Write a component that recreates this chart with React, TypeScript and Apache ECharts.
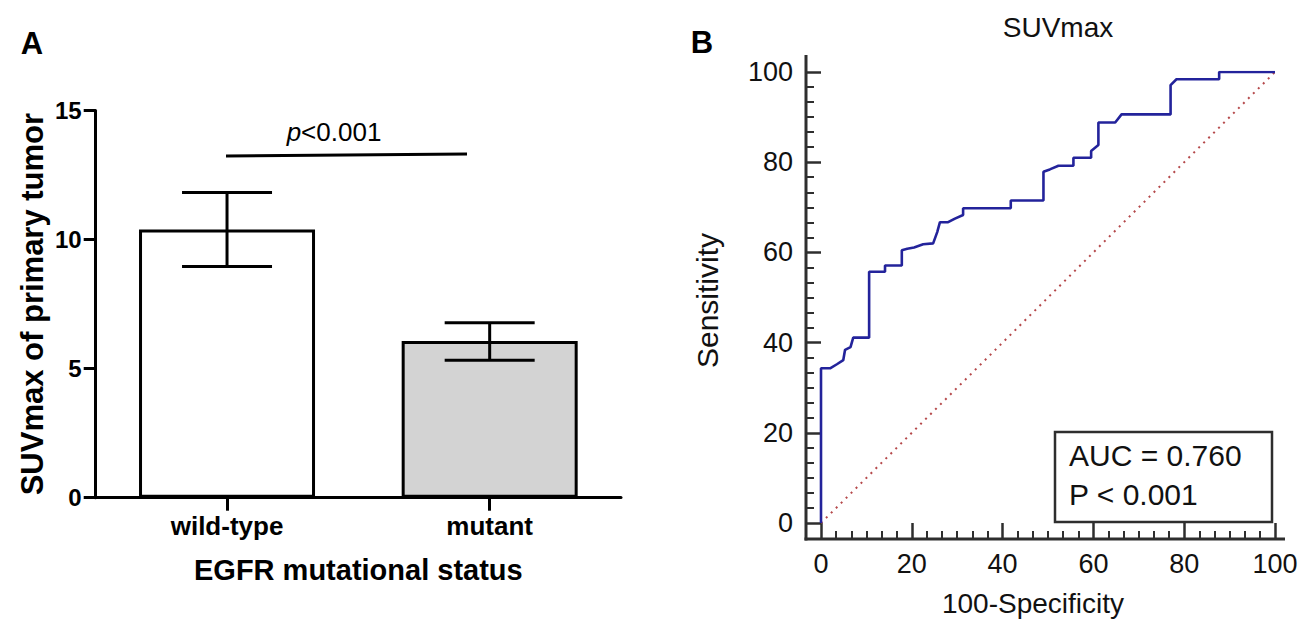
import React, { useEffect, useRef } from "react";
import * as echarts from "echarts";

// ---------- Panel A data ----------
const categories = ["wild-type", "mutant"];
const meanValues = [10.39, 6.07];
const errLow = [8.96, 5.32];
const errHigh = [11.82, 6.78];
const barFills = ["#ffffff", "#d3d3d3"];

// ---------- Panel B data (ROC curve) ----------
const rocFpr = [
  0, 0, 2.0, 3.5, 4.9, 5.3, 6.5, 7.1, 10.6, 10.6, 14.1, 14.1, 17.8, 17.8, 19.0,
  20.5, 22.5, 24.7, 25.6, 26.2, 28.0, 29.5, 31.3, 31.3, 41.8, 41.8, 49.0, 49.0,
  50.4, 52.3, 55.6, 55.6, 59.5, 59.5, 61.1, 61.1, 64.8, 66.2, 77.0, 77.0, 78.3,
  87.7, 87.7, 100,
];
const rocTpr = [
  0, 34.3, 34.3, 35.2, 36.1, 38.4, 39.0, 41.1, 41.1, 55.7, 55.7, 57.1, 57.1,
  60.5, 60.8, 61.1, 61.8, 62.0, 64.5, 66.7, 66.7, 67.5, 68.3, 69.8, 69.8, 71.5,
  71.5, 77.9, 78.4, 79.2, 79.2, 81.0, 81.0, 82.5, 83.8, 88.8, 88.8, 90.6, 90.6,
  97.1, 98.4, 98.4, 100, 100,
];
const diagX = [0, 100];
const diagY = [0, 100];
const aucText = "AUC = 0.760";
const pText = "P < 0.001";

const FONT = "'Liberation Sans', Arial, Helvetica, sans-serif";

// layout
const gA = { left: 95.7, top: 110.5, width: 525.3, height: 387.2 };
const gB = { left: 821, top: 72, width: 454, height: 451 };
const offY = 15;
const offX = 16;
const axisGray = "#2e2e2e";

export default function App() {
  const ref = useRef<HTMLDivElement>(null);

  useEffect(() => {
    if (!ref.current) return;
    const chart = echarts.init(ref.current, undefined, { renderer: "svg" });

    const yAxisLineX = gB.left - offY;
    const xAxisLineY = gB.top + gB.height + offX;

    const option: any = {
      animation: false,
      backgroundColor: "#ffffff",
      grid: [
        { left: gA.left, top: gA.top, width: gA.width, height: gA.height },
        { left: gB.left, top: gB.top, width: gB.width, height: gB.height },
      ],
      xAxis: [
        {
          gridIndex: 0,
          type: "category",
          data: categories,
          boundaryGap: true,
          axisLine: { show: true, onZero: false, lineStyle: { color: "#000", width: 3 } },
          axisTick: {
            show: true,
            alignWithLabel: true,
            length: 13,
            lineStyle: { color: "#000", width: 3 },
          },
          axisLabel: {
            color: "#000",
            fontFamily: FONT,
            fontWeight: "bold",
            fontSize: 26,
            margin: 15,
          },
          name: "EGFR mutational status",
          nameLocation: "middle",
          nameGap: 58,
          nameTextStyle: {
            color: "#000",
            fontFamily: FONT,
            fontWeight: "bold",
            fontSize: 29,
          },
          splitLine: { show: false },
        },
        {
          gridIndex: 1,
          type: "value",
          min: 0,
          max: 100,
          interval: 20,
          offset: offX,
          axisLine: { show: false, onZero: false },
          axisTick: {
            show: true,
            inside: true,
            length: 16,
            lineStyle: { color: axisGray, width: 2.5 },
          },
          minorTick: {
            show: true,
            splitNumber: 6,
            length: 8,
            lineStyle: { color: axisGray, width: 2 },
          },
          axisLabel: {
            color: "#111",
            fontFamily: FONT,
            fontSize: 27,
            margin: 11,
          },
          name: "100-Specificity",
          nameLocation: "middle",
          nameGap: 50,
          nameTextStyle: {
            color: "#111",
            fontFamily: FONT,
            fontSize: 28,
            padding: [0, 30, 0, 0],
          },
          splitLine: { show: false },
        },
      ],
      yAxis: [
        {
          gridIndex: 0,
          type: "value",
          min: 0,
          max: 15,
          interval: 5,
          axisLine: { show: true, onZero: false, lineStyle: { color: "#000", width: 3 } },
          axisTick: { show: true, length: 12, lineStyle: { color: "#000", width: 3 } },
          axisLabel: {
            color: "#000",
            fontFamily: FONT,
            fontWeight: "bold",
            fontSize: 24,
            margin: 14,
          },
          name: "SUVmax of primary tumor",
          nameLocation: "middle",
          nameGap: 48,
          nameTextStyle: {
            color: "#000",
            fontFamily: FONT,
            fontWeight: "bold",
            fontSize: 31,
          },
          splitLine: { show: false },
        },
        {
          gridIndex: 1,
          type: "value",
          min: 0,
          max: 100,
          interval: 20,
          offset: offY,
          axisLine: { show: false, onZero: false },
          axisTick: {
            show: true,
            inside: true,
            length: 15,
            lineStyle: { color: axisGray, width: 2.5 },
          },
          minorTick: {
            show: true,
            splitNumber: 6,
            length: 8,
            lineStyle: { color: axisGray, width: 2 },
          },
          axisLabel: {
            color: "#111",
            fontFamily: FONT,
            fontSize: 27,
            margin: 13,
          },
          name: "Sensitivity",
          nameLocation: "middle",
          nameGap: 84,
          nameTextStyle: {
            color: "#111",
            fontFamily: FONT,
            fontSize: 30,
            padding: [0, 6, 0, 0],
          },
          splitLine: { show: false },
        },
      ],
      series: [
        {
          type: "bar",
          xAxisIndex: 0,
          yAxisIndex: 0,
          barWidth: 176,
          data: meanValues.map((v, i) => ({
            value: v,
            itemStyle: { color: barFills[i], borderColor: "#000", borderWidth: 3 },
          })),
          z: 2,
        },
        {
          type: "custom",
          xAxisIndex: 0,
          yAxisIndex: 0,
          z: 5,
          data: categories.map((_, i) => [i, errLow[i], errHigh[i]]),
          renderItem: (params: any, api: any) => {
            const x = api.value(0);
            const lo = api.coord([x, api.value(1)]);
            const hi = api.coord([x, api.value(2)]);
            const half = 45;
            const st = { stroke: "#000", lineWidth: 3 };
            return {
              type: "group",
              children: [
                { type: "line", shape: { x1: lo[0], y1: lo[1], x2: hi[0], y2: hi[1] }, style: st },
                { type: "line", shape: { x1: lo[0] - half, y1: lo[1], x2: lo[0] + half, y2: lo[1] }, style: st },
                { type: "line", shape: { x1: hi[0] - half, y1: hi[1], x2: hi[0] + half, y2: hi[1] }, style: st },
              ],
            };
          },
        },
        {
          type: "line",
          xAxisIndex: 1,
          yAxisIndex: 1,
          data: diagX.map((x, i) => [x, diagY[i]]),
          symbol: "none",
          lineStyle: { color: "#b5484a", width: 2, type: [2, 5] },
          z: 3,
        },
        {
          type: "line",
          xAxisIndex: 1,
          yAxisIndex: 1,
          data: rocFpr.map((x, i) => [x, rocTpr[i]]),
          symbol: "none",
          lineStyle: { color: "#23239b", width: 2.6 },
          z: 4,
        },
      ],
      graphic: [
        {
          type: "text",
          x: 32,
          y: 43,
          style: {
            text: "A",
            font: `bold 31px ${FONT}`,
            fill: "#000",
            align: "center",
            verticalAlign: "middle",
          },
        },
        {
          type: "text",
          x: 702,
          y: 42,
          style: {
            text: "B",
            font: `bold 31px ${FONT}`,
            fill: "#000",
            align: "center",
            verticalAlign: "middle",
          },
        },
        {
          type: "text",
          x: 1058,
          y: 27,
          style: {
            text: "SUVmax",
            font: `28px ${FONT}`,
            fill: "#111",
            align: "center",
            verticalAlign: "middle",
          },
        },
        {
          type: "line",
          shape: { x1: 226, y1: 156, x2: 467, y2: 154 },
          style: { stroke: "#000", lineWidth: 3 },
        },
        {
          type: "text",
          x: 334,
          y: 132,
          style: {
            text: "{i|p}<0.001",
            font: `26px ${FONT}`,
            fill: "#000",
            align: "center",
            verticalAlign: "middle",
            rich: {
              i: { fontStyle: "italic", fontSize: 26, fontFamily: FONT, fill: "#000" },
            },
          },
        },
        {
          type: "line",
          shape: { x1: yAxisLineX, y1: 55, x2: yAxisLineX, y2: xAxisLineY + 1.5 },
          style: { stroke: axisGray, lineWidth: 3 },
        },
        {
          type: "line",
          shape: { x1: yAxisLineX - 1.5, y1: xAxisLineY, x2: 1285, y2: xAxisLineY },
          style: { stroke: axisGray, lineWidth: 3 },
        },
        {
          type: "rect",
          shape: { x: 1055, y: 432, width: 217, height: 90 },
          style: { fill: "#fff", stroke: axisGray, lineWidth: 2.5 },
          z: 10,
        },
        {
          type: "text",
          x: 1069,
          y: 455,
          z: 11,
          style: {
            text: aucText,
            font: `30px ${FONT}`,
            fill: "#111",
            align: "left",
            verticalAlign: "middle",
          },
        },
        {
          type: "text",
          x: 1069,
          y: 494,
          z: 11,
          style: {
            text: pText,
            font: `30px ${FONT}`,
            fill: "#111",
            align: "left",
            verticalAlign: "middle",
          },
        },
      ],
    };

    chart.setOption(option);
    return () => chart.dispose();
  }, []);

  return (
    <div
      ref={ref}
      style={{
        position: "fixed",
        left: 0,
        top: 0,
        width: 1309,
        height: 629,
        background: "#fff",
      }}
    />
  );
}
